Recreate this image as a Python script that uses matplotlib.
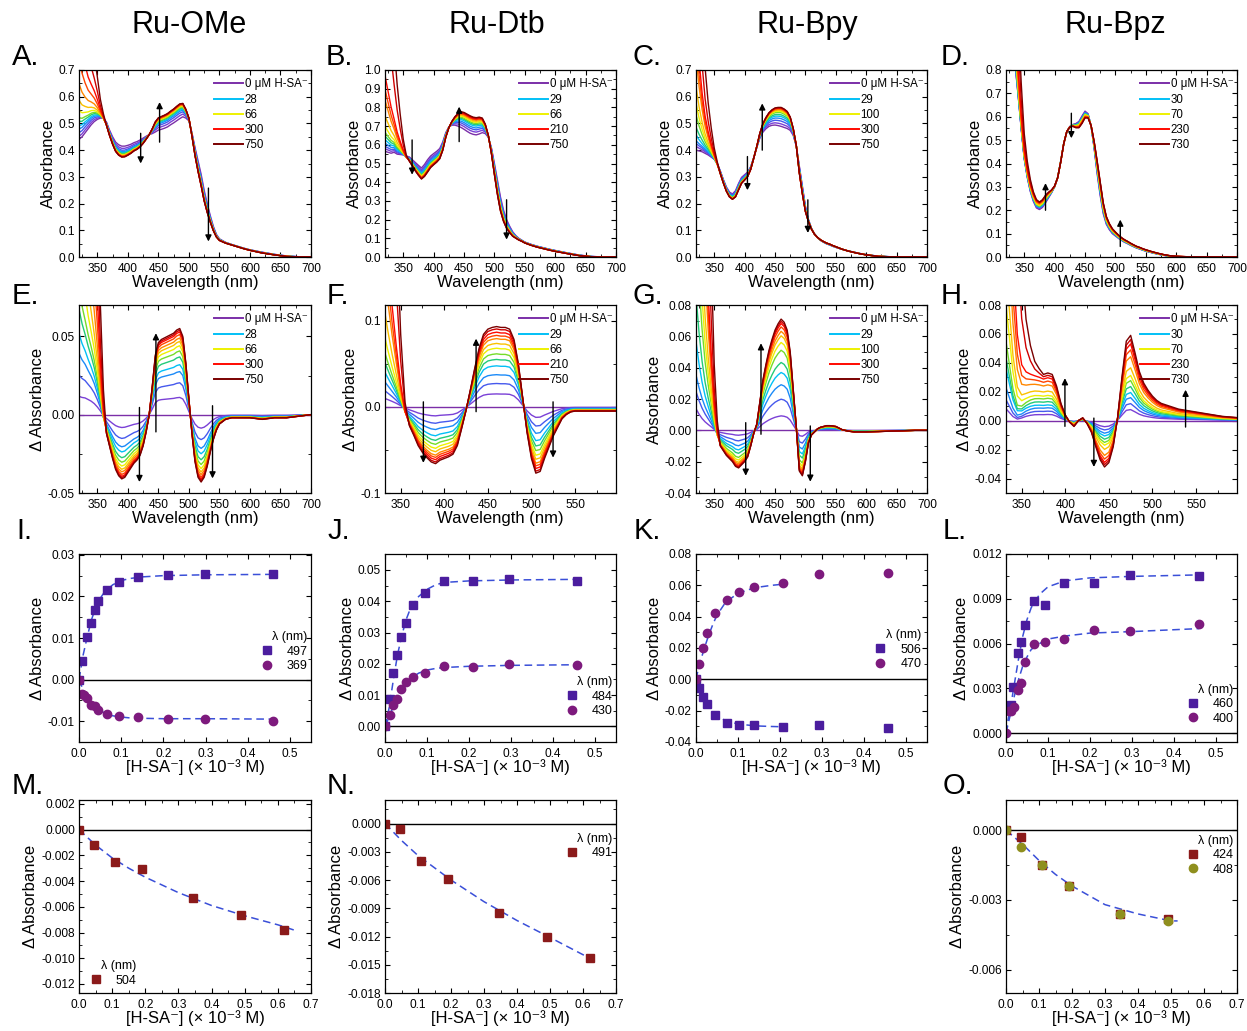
import numpy as np
import matplotlib
matplotlib.use('Agg')
import matplotlib.pyplot as plt
from matplotlib.colors import LinearSegmentedColormap
from matplotlib.lines import Line2D
from matplotlib.ticker import MultipleLocator, AutoMinorLocator, FuncFormatter

plt.rcParams['font.family'] = ['Liberation Sans', 'DejaVu Sans']
plt.rcParams['axes.unicode_minus'] = False

# ---------------- data: UV-vis spectra ----------------
wavelength_nm = [320, 325, 330, 335, 340, 345, 350, 355, 360, 365, 370, 375, 380, 385, 390, 395,
                 400, 405, 410, 415, 420, 425, 430, 435, 440, 445, 450, 455, 460, 465, 470, 475,
                 480, 485, 490, 495, 500, 505, 510, 515, 520, 525, 530, 535, 540, 545, 550, 560,
                 570, 580, 590, 600, 620, 640, 660, 680, 700]

# Ru-OMe
start_ome = [0.440, 0.450, 0.465, 0.480, 0.495, 0.507, 0.515, 0.520, 0.520, 0.505, 0.475, 0.450, 0.430, 0.420, 0.415, 0.415,
             0.418, 0.422, 0.428, 0.432, 0.438, 0.445, 0.452, 0.458, 0.462, 0.468, 0.475, 0.478, 0.482, 0.487, 0.495, 0.502,
             0.510, 0.518, 0.525, 0.520, 0.510, 0.465, 0.410, 0.360, 0.310, 0.250, 0.200, 0.155, 0.115, 0.085, 0.068, 0.055,
             0.047, 0.040, 0.033, 0.027, 0.018, 0.010, 0.004, 0.001, 0.000]
bind_ome = [0.025, 0.030, 0.035, 0.035, 0.033, 0.028, 0.020, 0.010, -0.004, -0.012, -0.020, -0.028, -0.035, -0.039, -0.041, -0.040,
            -0.037, -0.034, -0.031, -0.029, -0.026, -0.020, -0.011, 0.000, 0.018, 0.038, 0.046, 0.048, 0.049, 0.050, 0.051, 0.052,
            0.054, 0.055, 0.050, 0.033, 0.010, -0.012, -0.030, -0.040, -0.043, -0.040, -0.033, -0.024, -0.016, -0.010, -0.006, -0.003,
            -0.002, -0.002, -0.002, -0.002, -0.003, -0.002, -0.002, -0.001, 0.000]
hsa_ome = [1.00, 0.75, 0.55, 0.40, 0.30, 0.22, 0.14, 0.06, 0.02, 0.0, 0.0, 0.0, 0.0, 0.0, 0.0, 0.0,
           0.0, 0.0, 0.0, 0.0, 0.0, 0.0, 0.0, 0.0, 0.0, 0.0, 0.0, 0.0, 0.0, 0.0, 0.0, 0.0,
           0.0, 0.0, 0.0, 0.0, 0.0, 0.0, 0.0, 0.0, 0.0, 0.0, 0.0, 0.0, 0.0, 0.0, 0.0, 0.0,
           0.0, 0.0, 0.0, 0.0, 0.0, 0.0, 0.0, 0.0, 0.0]
conc_ome = [0, 5, 12, 20, 28, 38, 47, 66, 94, 140, 210, 300, 460, 750]
frac_ome = [0, 0.20, 0.37, 0.50, 0.58, 0.67, 0.74, 0.80, 0.85, 0.89, 0.93, 0.96, 0.98, 1.0]

# Ru-Dtb
start_dtb = [0.565, 0.560, 0.555, 0.560, 0.550, 0.548, 0.546, 0.540, 0.535, 0.520, 0.505, 0.490, 0.476, 0.495, 0.520, 0.540,
             0.553, 0.565, 0.580, 0.615, 0.665, 0.695, 0.705, 0.705, 0.700, 0.693, 0.683, 0.672, 0.662, 0.656, 0.653, 0.658,
             0.665, 0.660, 0.640, 0.585, 0.500, 0.410, 0.320, 0.250, 0.200, 0.165, 0.135, 0.115, 0.100, 0.090, 0.080, 0.068,
             0.058, 0.050, 0.042, 0.035, 0.022, 0.010, 0.003, 0.000, 0.000]
bind_dtb = [0.015, 0.020, 0.025, 0.025, 0.022, 0.015, 0.004, -0.010, -0.022, -0.033, -0.045, -0.053, -0.059, -0.064, -0.066, -0.062,
            -0.060, -0.058, -0.055, -0.045, -0.025, -0.004, 0.020, 0.045, 0.068, 0.084, 0.090, 0.092, 0.093, 0.092, 0.092, 0.090,
            0.078, 0.050, 0.010, -0.030, -0.060, -0.077, -0.075, -0.060, -0.047, -0.034, -0.024, -0.014, -0.009, -0.006, -0.005, -0.005,
            -0.005, -0.005, -0.005, -0.005, -0.004, -0.003, -0.002, -0.001, 0.000]
hsa_dtb = [1.40, 1.10, 0.80, 0.55, 0.35, 0.20, 0.08, 0.015, 0.0, 0.0, 0.0, 0.0, 0.0, 0.0, 0.0, 0.0,
           0.0, 0.0, 0.0, 0.0, 0.0, 0.0, 0.0, 0.0, 0.0, 0.0, 0.0, 0.0, 0.0, 0.0, 0.0, 0.0,
           0.0, 0.0, 0.0, 0.0, 0.0, 0.0, 0.0, 0.0, 0.0, 0.0, 0.0, 0.0, 0.0, 0.0, 0.0, 0.0,
           0.0, 0.0, 0.0, 0.0, 0.0, 0.0, 0.0, 0.0, 0.0]
conc_dtb = [0, 6, 12, 20, 29, 39, 49, 66, 95, 140, 170, 210, 460, 750]
frac_dtb = [0, 0.16, 0.29, 0.40, 0.51, 0.59, 0.66, 0.73, 0.79, 0.85, 0.89, 0.93, 0.97, 1.0]

# Ru-Bpy
start_bpy = [0.400, 0.397, 0.394, 0.388, 0.382, 0.374, 0.366, 0.350, 0.322, 0.290, 0.262, 0.243, 0.236, 0.248, 0.275, 0.298,
             0.308, 0.318, 0.338, 0.372, 0.410, 0.445, 0.467, 0.480, 0.489, 0.493, 0.494, 0.492, 0.489, 0.485, 0.481, 0.474,
             0.455, 0.415, 0.340, 0.265, 0.190, 0.140, 0.107, 0.086, 0.072, 0.062, 0.055, 0.049, 0.045, 0.040, 0.036, 0.029,
             0.023, 0.018, 0.013, 0.009, 0.003, 0.001, 0.000, 0.000, 0.000]
bind_bpy = [0.020, 0.022, 0.022, 0.020, 0.016, 0.010, 0.002, -0.006, -0.010, -0.013, -0.016, -0.018, -0.020, -0.023, -0.024, -0.022,
            -0.020, -0.017, -0.010, -0.002, 0.004, 0.018, 0.032, 0.042, 0.051, 0.058, 0.064, 0.068, 0.071, 0.069, 0.064, 0.050,
            0.026, 0.002, -0.026, -0.029, -0.020, -0.008, -0.003, -0.001, 0.001, 0.002, 0.0025, 0.003, 0.003, 0.0028, 0.0025, 0.0005,
            -0.0005, -0.001, -0.001, -0.001, -0.0008, -0.0005, -0.0003, 0.000, 0.000]
hsa_bpy = [1.20, 0.80, 0.50, 0.30, 0.18, 0.10, 0.04, 0.012, 0.0, 0.0, 0.0, 0.0, 0.0, 0.0, 0.0, 0.0,
           0.0, 0.0, 0.0, 0.0, 0.0, 0.0, 0.0, 0.0, 0.0, 0.0, 0.0, 0.0, 0.0, 0.0, 0.0, 0.0,
           0.0, 0.0, 0.0, 0.0, 0.0, 0.0, 0.0, 0.0, 0.0, 0.0, 0.0, 0.0, 0.0, 0.0, 0.0, 0.0,
           0.0, 0.0, 0.0, 0.0, 0.0, 0.0, 0.0, 0.0, 0.0]
conc_bpy = [0, 7, 12, 17, 29, 46, 73, 100, 138, 208, 250, 300, 460, 750]
frac_bpy = [0, 0.13, 0.28, 0.41, 0.52, 0.61, 0.72, 0.79, 0.85, 0.89, 0.93, 0.96, 0.98, 1.0]

# Ru-Bpz
start_bpz = [1.300, 1.100, 0.950, 0.820, 0.690, 0.550, 0.420, 0.340, 0.280, 0.238, 0.210, 0.203, 0.212, 0.232, 0.253, 0.275,
             0.300, 0.340, 0.410, 0.485, 0.535, 0.558, 0.567, 0.571, 0.580, 0.603, 0.624, 0.613, 0.560, 0.465, 0.355, 0.262,
             0.185, 0.140, 0.117, 0.100, 0.090, 0.080, 0.071, 0.063, 0.057, 0.050, 0.044, 0.038, 0.034, 0.029, 0.025, 0.018,
             0.012, 0.007, 0.003, 0.001, 0.000, 0.000, 0.000, 0.000, 0.000]
bind_bpz = [0.030, 0.025, 0.020, 0.010, 0.000, -0.004, 0.008, 0.020, 0.027, 0.031, 0.032, 0.032, 0.033, 0.032, 0.024, 0.012,
            0.004, -0.001, -0.004, 0.000, 0.002, -0.002, -0.008, -0.018, -0.027, -0.032, -0.029, -0.018, 0.002, 0.030, 0.055, 0.059,
            0.047, 0.034, 0.026, 0.021, 0.017, 0.014, 0.012, 0.011, 0.010, 0.009, 0.008, 0.0075, 0.007, 0.0065, 0.006, 0.005,
            0.004, 0.003, 0.0025, 0.002, 0.001, 0.0005, 0.000, 0.000, 0.000]
hsa_bpz = [1.50, 1.10, 0.85, 0.60, 0.35, 0.20, 0.10, 0.05, 0.025, 0.01, 0.004, 0.0, 0.0, 0.0, 0.0, 0.0,
           0.0, 0.0, 0.0, 0.0, 0.0, 0.0, 0.0, 0.0, 0.0, 0.0, 0.0, 0.0, 0.0, 0.0, 0.0, 0.0,
           0.0, 0.0, 0.0, 0.0, 0.0, 0.0, 0.0, 0.0, 0.0, 0.0, 0.0, 0.0, 0.0, 0.0, 0.0, 0.0,
           0.0, 0.0, 0.0, 0.0, 0.0, 0.0, 0.0, 0.0, 0.0]
conc_bpz = [0, 6, 11, 18, 30, 36, 46, 70, 94, 140, 180, 230, 460, 730]
frac_bpz = [0, 0.13, 0.20, 0.27, 0.33, 0.40, 0.47, 0.53, 0.62, 0.75, 0.83, 0.90, 0.95, 1.0]

legend_idx = [0, 4, 7, 11, 13]

# ---------------- data: titrations ----------------
I_x_497 = [0, 0.008, 0.020, 0.028, 0.037, 0.046, 0.066, 0.094, 0.140, 0.211, 0.298, 0.460]
I_y_497 = [0, 0.0045, 0.0102, 0.0137, 0.0168, 0.0188, 0.0215, 0.0235, 0.0247, 0.0252, 0.0254, 0.0255]
I_x_369 = [0, 0.008, 0.012, 0.020, 0.028, 0.037, 0.046, 0.066, 0.094, 0.140, 0.211, 0.298, 0.460]
I_y_369 = [0, -0.0034, -0.0037, -0.0044, -0.0060, -0.0064, -0.0072, -0.0083, -0.0087, -0.0091, -0.0095, -0.0094, -0.0100]
I_fit_x = [0, 0.01, 0.02, 0.03, 0.04, 0.05, 0.06, 0.08, 0.10, 0.12, 0.15, 0.20, 0.30, 0.46]
I_fit_497 = [0, 0.0060, 0.0105, 0.0145, 0.0175, 0.0195, 0.0210, 0.0228, 0.0238, 0.0243, 0.0247, 0.0250, 0.0252, 0.0253]
I_fit_369 = [0, -0.0025, -0.0043, -0.0057, -0.0066, -0.0074, -0.0080, -0.0087, -0.0090, -0.0092, -0.0093, -0.0094, -0.0094, -0.0095]

J_x = [0, 0.012, 0.020, 0.029, 0.039, 0.049, 0.067, 0.095, 0.140, 0.210, 0.296, 0.458]
J_y_484 = [0, 0.0089, 0.0169, 0.0228, 0.0286, 0.0332, 0.0389, 0.0427, 0.0464, 0.0464, 0.0471, 0.0465]
J_y_430 = [0, 0.0036, 0.0069, 0.0087, 0.0118, 0.0143, 0.0157, 0.0172, 0.0192, 0.0189, 0.0200, 0.0196]
J_fit_x = [0, 0.01, 0.02, 0.03, 0.04, 0.05, 0.06, 0.08, 0.10, 0.12, 0.14, 0.20, 0.30, 0.46]
J_fit_484 = [0, 0.0060, 0.0150, 0.0230, 0.0290, 0.0340, 0.0375, 0.0415, 0.0438, 0.0452, 0.0460, 0.0465, 0.0468, 0.0470]
J_fit_430 = [0, 0.0030, 0.0065, 0.0095, 0.0120, 0.0138, 0.0152, 0.0170, 0.0180, 0.0185, 0.0188, 0.0192, 0.0195, 0.0197]

K_x = [0, 0.008, 0.017, 0.027, 0.046, 0.073, 0.102, 0.138, 0.208, 0.294, 0.456]
K_y_506 = [0, -0.0058, -0.0111, -0.0160, -0.0227, -0.0276, -0.0289, -0.0293, -0.0304, -0.0289, -0.0312]
K_y_470 = [0, 0.0098, 0.0201, 0.0293, 0.0424, 0.0505, 0.0556, 0.0588, 0.0616, 0.0670, 0.0680]
K_fit_x = [0, 0.005, 0.01, 0.02, 0.03, 0.04, 0.05, 0.07, 0.10, 0.14, 0.18, 0.21]
K_fit_470 = [0, 0.0060, 0.0110, 0.0200, 0.0280, 0.0350, 0.0410, 0.0490, 0.0550, 0.0585, 0.0600, 0.0608]
K_fit_506 = [0, -0.0030, -0.0060, -0.0110, -0.0160, -0.0200, -0.0228, -0.0265, -0.0285, -0.0297, -0.0301, -0.0303]

L_x_460 = [0.005, 0.013, 0.017, 0.028, 0.036, 0.046, 0.066, 0.094, 0.138, 0.209, 0.296, 0.459]
L_y_460 = [0.00167, 0.00185, 0.0031, 0.00535, 0.00613, 0.00725, 0.00888, 0.00857, 0.01008, 0.01004, 0.0106, 0.01053]
L_x_400 = [0, 0.006, 0.011, 0.018, 0.028, 0.036, 0.046, 0.066, 0.094, 0.138, 0.209, 0.296, 0.459]
L_y_400 = [0, 0.0015, 0.00145, 0.00172, 0.0029, 0.00335, 0.00475, 0.0060, 0.00613, 0.00631, 0.00692, 0.00687, 0.00732]
L_fit_x = [0, 0.005, 0.01, 0.02, 0.03, 0.04, 0.05, 0.06, 0.08, 0.10, 0.14, 0.20, 0.30, 0.46]
L_fit_460 = [0, 0.0009, 0.0016, 0.0033, 0.0050, 0.0065, 0.0076, 0.0084, 0.0093, 0.0098, 0.0102, 0.0104, 0.0105, 0.0106]
L_fit_400 = [0, 0.0006, 0.0012, 0.0025, 0.0036, 0.0045, 0.0051, 0.0056, 0.0060, 0.0063, 0.0065, 0.0067, 0.0068, 0.0070]

M_x = [0, 0.045, 0.110, 0.190, 0.345, 0.490, 0.620]
M_y_504 = [0, -0.0012, -0.0025, -0.0031, -0.0053, -0.0066, -0.0078]
M_fit_x = [0, 0.05, 0.10, 0.15, 0.20, 0.30, 0.40, 0.50, 0.60, 0.66]
M_fit_y = [0, -0.0012, -0.0022, -0.0030, -0.0037, -0.0049, -0.0059, -0.0067, -0.0074, -0.0079]

N_x = [0, 0.045, 0.110, 0.190, 0.345, 0.490, 0.620]
N_y_491 = [0, -0.0006, -0.0040, -0.0059, -0.0095, -0.0121, -0.0143]
N_fit_x = [0, 0.05, 0.10, 0.15, 0.20, 0.30, 0.40, 0.50, 0.62]
N_fit_y = [0, -0.0018, -0.0034, -0.0047, -0.0060, -0.0083, -0.0103, -0.0121, -0.0143]

O_x = [0, 0.045, 0.110, 0.190, 0.345, 0.490]
O_y_424 = [0, -0.0003, -0.0015, -0.0024, -0.0036, -0.0038]
O_y_408 = [0, -0.0007, -0.0015, -0.0024, -0.0036, -0.0039]
O_fit_x = [0, 0.05, 0.10, 0.15, 0.20, 0.30, 0.40, 0.50, 0.52]
O_fit_y = [0, -0.0006, -0.0013, -0.0019, -0.0024, -0.0032, -0.0036, -0.0039, -0.0039]

# ---------------- styling ----------------
W, H = 1247, 1031
fig = plt.figure(figsize=(W / 100, H / 100), dpi=100)
fig.patch.set_facecolor('white')

cmap = LinearSegmentedColormap.from_list('titr', [
    (0.00, '#7b2fa8'), (0.09, '#7a44e0'), (0.18, '#2f62f2'), (0.30, '#00bfff'),
    (0.42, '#30d040'), (0.54, '#f2f200'), (0.66, '#ffa500'), (0.78, '#ff3a00'),
    (0.86, '#ff0000'), (0.93, '#cc0000'), (1.00, '#7a0000')])

cols = [(79, 311), (385, 616), (696, 927), (1006, 1237)]
rows = [(70, 257), (305, 493), (554, 742), (800, 993)]

SQ = '#4b1d9e'
CI = '#7d1a7d'
DR = '#8b1a1a'
OL = '#8f8f1e'
FIT = '#3a4fd8'
TICK = 8.6
LAB = 12


def add_ax(c, r):
    l, rr = cols[c]
    t, b = rows[r]
    return fig.add_axes([l / W, 1 - b / H, (rr - l) / W, (b - t) / H])


def fmt(d):
    def f(v, p):
        if abs(v) < 1e-12:
            v = 0.0
        return f'{v:.{d}f}'
    return FuncFormatter(f)


def style(ax, xlim, ylim, xmaj, ymaj, xd, yd):
    ax.set_xlim(*xlim)
    ax.set_ylim(*ylim)
    ax.xaxis.set_major_locator(MultipleLocator(xmaj))
    ax.yaxis.set_major_locator(MultipleLocator(ymaj))
    ax.xaxis.set_minor_locator(AutoMinorLocator(2))
    ax.yaxis.set_minor_locator(AutoMinorLocator(2))
    ax.xaxis.set_major_formatter(fmt(xd))
    ax.yaxis.set_major_formatter(fmt(yd))
    ax.tick_params(which='both', direction='in', top=True, right=True, labelsize=TICK)
    ax.tick_params(axis='x', pad=4)
    ax.tick_params(axis='y', pad=3)
    ax.tick_params(which='major', length=3.5, width=0.8)
    ax.tick_params(which='minor', length=2, width=0.6)
    for s in ax.spines.values():
        s.set_linewidth(0.9)


def draw_spectra(ax, base, bind, hsa, conc, frac, labels):
    wl = np.array(wavelength_nm)
    b = np.array(base)
    d = np.array(bind)
    u = np.array(hsa)
    n = len(conc)
    for i in range(n):
        y = b + frac[i] * d + conc[i] / conc[-1] * u
        ax.plot(wl, y, color=cmap(i / (n - 1)), lw=1.0)
    handles = [Line2D([], [], color=cmap(k / (n - 1)), lw=1.4) for k in legend_idx]
    ax.legend(handles, labels, loc='upper right', bbox_to_anchor=(0.985, 0.955), frameon=False,
              fontsize=8.3, handlelength=2.5, handletextpad=0.15, labelspacing=0.28,
              borderaxespad=0, borderpad=0)


def arrows(ax, lst):
    for x, y0, y1 in lst:
        ax.annotate('', xy=(x, y1), xytext=(x, y0),
                    arrowprops=dict(arrowstyle='-|>', color='k', lw=1.0, mutation_scale=9,
                                    shrinkA=0, shrinkB=0))


def titr_legend(ax, handles, labels, loc, anchor):
    ax.legend(handles, labels, title='λ (nm)', loc=loc, bbox_to_anchor=anchor, frameon=False,
              fontsize=9, title_fontsize=9, handlelength=0.8, handletextpad=1.2,
              labelspacing=0.2, borderaxespad=0, borderpad=0, alignment='right')


def sq_h(color):
    return Line2D([], [], marker='s', ls='none', color=color, ms=5.5)


def ci_h(color):
    return Line2D([], [], marker='o', ls='none', color=color, ms=6)


zeros = [0.0] * len(wavelength_nm)
XL = 'Wavelength (nm)'
XT = '[H-SA⁻] (× 10⁻³ M)'

# ---------------- row 1: absorbance ----------------
specs = [
    (start_ome, bind_ome, hsa_ome, conc_ome, frac_ome, (0, 0.7), 0.1),
    (start_dtb, bind_dtb, hsa_dtb, conc_dtb, frac_dtb, (0, 1.0), 0.1),
    (start_bpy, bind_bpy, hsa_bpy, conc_bpy, frac_bpy, (0, 0.7), 0.1),
    (start_bpz, bind_bpz, hsa_bpz, conc_bpz, frac_bpz, (0, 0.8), 0.1),
]
labsets = [
    ['0 μM H-SA⁻', '28', '66', '300', '750'],
    ['0 μM H-SA⁻', '29', '66', '210', '750'],
    ['0 μM H-SA⁻', '29', '100', '300', '750'],
    ['0 μM H-SA⁻', '30', '70', '230', '730'],
]
arrows_abs = [
    [(421, 0.463, 0.35), (452, 0.43, 0.58), (532, 0.258, 0.058)],
    [(364.6, 0.626, 0.44), (442, 0.617, 0.804), (520, 0.306, 0.093)],
    [(404.6, 0.376, 0.25), (429, 0.40, 0.575), (504, 0.214, 0.09)],
    [(385, 0.20, 0.316), (427.5, 0.615, 0.508), (508, 0.045, 0.16)],
]
for c, (st, bd, hs, cc, fr, yl, ym) in enumerate(specs):
    ax = add_ax(c, 0)
    draw_spectra(ax, st, bd, hs, cc, fr, labsets[c])
    style(ax, (320, 700), yl, 50, ym, 0, 1)
    arrows(ax, arrows_abs[c])
    ax.set_xlabel(XL, fontsize=LAB, labelpad=0)
    ax.set_ylabel('Absorbance', fontsize=LAB, labelpad=2)

# ---------------- row 2: difference spectra ----------------
diff_cfg = [
    ((320, 700), (-0.05, 0.07), 0.05, 2, 'Δ Absorbance'),
    ((332, 597), (-0.1, 0.118), 0.1, 1, 'Δ Absorbance'),
    ((320, 700), (-0.04, 0.08), 0.02, 2, 'Absorbance'),
    ((332, 597), (-0.05, 0.08), 0.02, 2, 'Δ Absorbance'),
]
arrows_diff = [
    [(419, 0.0046, -0.043), (446, -0.011, 0.052), (538.7, 0.0057, -0.0407)],
    [(376, 0.0057, -0.065), (436.5, -0.0057, 0.079), (524.8, 0.0057, -0.059)],
    [(401.8, 0.0049, -0.029), (426.9, -0.0025, 0.0556), (508, 0.0028, -0.0328)],
    [(399.6, -0.0039, 0.0294), (432.8, 0.0018, -0.032), (538, -0.0044, 0.0214)],
]
for c, (st, bd, hs, cc, fr, _, _) in enumerate(specs):
    xl, yl, ym, yd, ylab = diff_cfg[c]
    ax = add_ax(c, 1)
    draw_spectra(ax, zeros, bd, hs, cc, fr, labsets[c])
    style(ax, xl, yl, 50, ym, 0, yd)
    arrows(ax, arrows_diff[c])
    ax.set_xlabel(XL, fontsize=LAB, labelpad=0)
    ax.set_ylabel(ylab, fontsize=LAB, labelpad=2)


# ---------------- row 3: titrations ----------------
def fitline(ax, x, y):
    ax.plot(x, y, color=FIT, lw=1.1, dashes=(5, 3))


# I
ax = add_ax(0, 2)
ax.axhline(0, color='k', lw=1.0)
fitline(ax, I_fit_x, I_fit_497)
fitline(ax, I_fit_x, I_fit_369)
ax.plot(I_x_497, I_y_497, 's', color=SQ, ms=5.5)
ax.plot(I_x_369, I_y_369, 'o', color=CI, ms=6)
style(ax, (0, 0.55), (-0.015, 0.0302), 0.1, 0.01, 1, 2)
titr_legend(ax, [sq_h(SQ), ci_h(CI)], ['497', '369'], 'upper right', (0.985, 0.59))

# J
ax = add_ax(1, 2)
ax.axhline(0, color='k', lw=1.0)
fitline(ax, J_fit_x, J_fit_484)
fitline(ax, J_fit_x, J_fit_430)
ax.plot(J_x, J_y_484, 's', color=SQ, ms=5.5)
ax.plot(J_x, J_y_430, 'o', color=CI, ms=6)
style(ax, (0, 0.55), (-0.005, 0.0551), 0.1, 0.01, 1, 2)
titr_legend(ax, [sq_h(SQ), ci_h(CI)], ['484', '430'], 'upper right', (0.985, 0.35))

# K
ax = add_ax(2, 2)
ax.axhline(0, color='k', lw=1.0)
fitline(ax, K_fit_x, K_fit_470)
fitline(ax, K_fit_x, K_fit_506)
ax.plot(K_x, K_y_506, 's', color=SQ, ms=5.5)
ax.plot(K_x, K_y_470, 'o', color=CI, ms=6)
style(ax, (0, 0.55), (-0.04, 0.08), 0.1, 0.02, 1, 2)
titr_legend(ax, [sq_h(SQ), ci_h(CI)], ['506', '470'], 'upper right', (0.975, 0.60))

# L
ax = add_ax(3, 2)
ax.axhline(0, color='k', lw=1.0)
fitline(ax, L_fit_x, L_fit_460)
fitline(ax, L_fit_x, L_fit_400)
ax.plot(L_x_460, L_y_460, 's', color=SQ, ms=5.5)
ax.plot(L_x_400, L_y_400, 'o', color=CI, ms=6)
style(ax, (0, 0.55), (-0.0006, 0.012), 0.1, 0.003, 1, 3)
titr_legend(ax, [sq_h(SQ), ci_h(CI)], ['460', '400'], 'upper right', (0.985, 0.31))

for c in range(4):
    a = fig.axes[8 + c]
    a.set_xlabel(XT, fontsize=LAB, labelpad=0)
    a.set_ylabel('Δ Absorbance', fontsize=LAB, labelpad=2)

# ---------------- row 4 ----------------
ax = add_ax(0, 3)
ax.axhline(0, color='k', lw=1.0)
fitline(ax, M_fit_x, M_fit_y)
ax.plot(M_x, M_y_504, 's', color=DR, ms=5.5)
style(ax, (0, 0.7), (-0.0127, 0.0023), 0.1, 0.002, 1, 3)
titr_legend(ax, [sq_h(DR)], ['504'], 'upper left', (0.05, 0.17))
ax.set_xlabel(XT, fontsize=LAB, labelpad=0)
ax.set_ylabel('Δ Absorbance', fontsize=LAB, labelpad=2)

ax = add_ax(1, 3)
ax.axhline(0, color='k', lw=1.0)
fitline(ax, N_fit_x, N_fit_y)
ax.plot(N_x, N_y_491, 's', color=DR, ms=5.5)
style(ax, (0, 0.7), (-0.018, 0.0025), 0.1, 0.003, 1, 3)
titr_legend(ax, [sq_h(DR)], ['491'], 'upper right', (0.985, 0.83))
ax.set_xlabel(XT, fontsize=LAB, labelpad=0)
ax.set_ylabel('Δ Absorbance', fontsize=LAB, labelpad=2)

ax = add_ax(3, 3)
ax.axhline(0, color='k', lw=1.0)
fitline(ax, O_fit_x, O_fit_y)
ax.plot(O_x, O_y_424, 's', color=DR, ms=5.5)
ax.plot(O_x, O_y_408, 'o', color=OL, ms=6)
style(ax, (0, 0.7), (-0.007, 0.0013), 0.1, 0.003, 1, 3)
titr_legend(ax, [sq_h(DR), ci_h(OL)], ['424', '408'], 'upper right', (0.985, 0.82))
ax.set_xlabel(XT, fontsize=LAB, labelpad=0)
ax.set_ylabel('Δ Absorbance', fontsize=LAB, labelpad=2)

# ---------------- titles & panel letters ----------------
titles = ['Ru-OMe', 'Ru-Dtb', 'Ru-Bpy', 'Ru-Bpz']
title_x = [189, 497, 807, 1115]
for t, x in zip(titles, title_x):
    fig.text(x / W, 1 - 25 / H, t, fontsize=22, ha='center', va='center')

letters = [('A.', 12, 57), ('B.', 326, 57), ('C.', 632, 57), ('D.', 941, 57),
           ('E.', 12, 296), ('F.', 327, 296), ('G.', 632, 296), ('H.', 941, 296),
           ('I.', 16, 531), ('J.', 328, 531), ('K.', 634, 531), ('L.', 943, 531),
           ('M.', 12, 786), ('N.', 327, 786), ('O.', 943, 786)]
for s, x, y in letters:
    fig.text(x / W, 1 - y / H, s, fontsize=21, ha='left', va='center')

fig.savefig('out.png', dpi=100, facecolor='white')
